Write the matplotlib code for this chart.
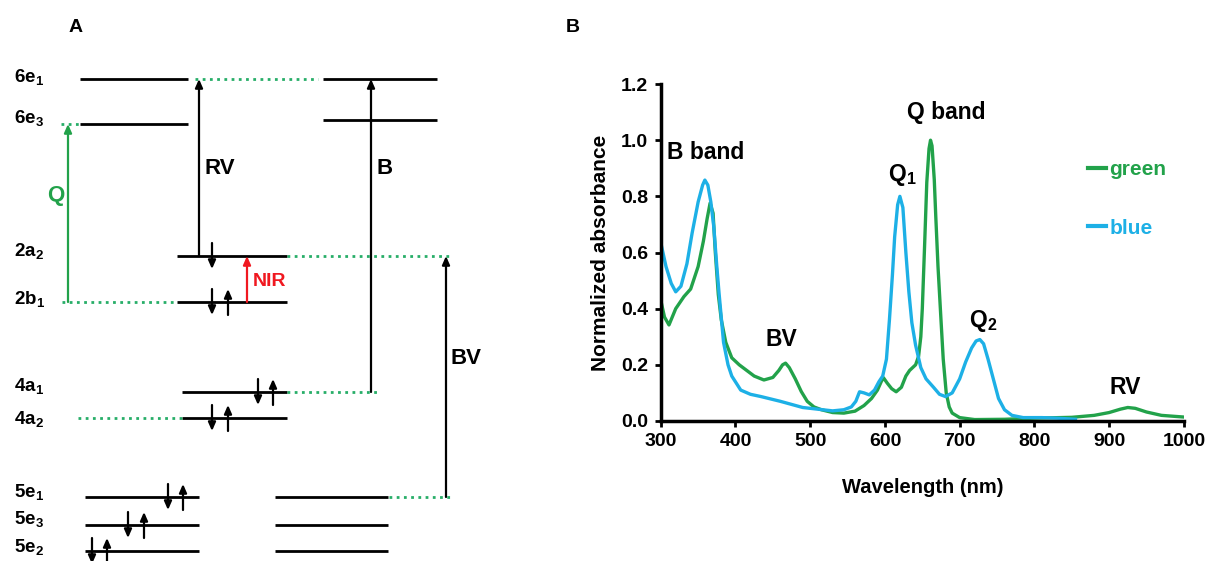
import matplotlib
matplotlib.use("Agg")
import matplotlib.pyplot as plt

plt.rcParams["font.family"] = ["Liberation Sans", "DejaVu Sans"]
plt.rcParams["font.weight"] = "bold"
plt.rcParams["mathtext.fontset"] = "custom"
plt.rcParams["mathtext.rm"] = "Liberation Sans:bold"
plt.rcParams["mathtext.bf"] = "Liberation Sans:bold"

GREEN = "#22A24A"
BLUE = "#1DB0E6"
DOT_GREEN = "#27AE68"
RED = "#F01820"

# ---- panel B: absorption spectra ----
green_x = [300, 305, 311, 320, 331, 340, 350, 357, 362, 366, 370, 373, 377, 381, 387,
           395, 405, 415, 425, 438, 450, 458, 463, 467, 472, 480, 488, 496, 505, 515,
           530, 545, 560, 572, 582, 590, 595, 598, 603, 609, 615, 622, 628, 633, 641,
           645, 648, 650, 653, 656, 659, 661, 663, 666, 668, 671, 675, 678, 682, 686,
           690, 700, 720, 760, 800, 850, 880, 900, 915, 925, 935, 950, 970, 1000]
green_y = [0.43, 0.37, 0.342, 0.40, 0.443, 0.47, 0.55, 0.64, 0.72, 0.776, 0.74, 0.60, 0.45,
           0.36, 0.28, 0.225, 0.20, 0.18, 0.16, 0.146, 0.155, 0.18, 0.20, 0.206, 0.19,
           0.15, 0.105, 0.07, 0.05, 0.04, 0.03, 0.028, 0.035, 0.055, 0.08, 0.11, 0.14,
           0.154, 0.135, 0.115, 0.104, 0.12, 0.16, 0.18, 0.20, 0.23, 0.30, 0.40, 0.62,
           0.85, 0.97, 1.0, 0.98, 0.86, 0.73, 0.55, 0.36, 0.22, 0.10, 0.05, 0.028, 0.012,
           0.005, 0.006, 0.01, 0.013, 0.02, 0.03, 0.042, 0.048, 0.045, 0.032, 0.02, 0.014]

blue_x = [300, 307, 314, 320, 327, 335, 342, 350, 356, 359, 363, 367, 371, 375, 378,
          384, 390, 395, 407, 420, 434, 460, 490, 510, 530, 545, 555, 561, 566, 572,
          579, 586, 592, 597, 602, 606, 610, 613, 617, 620, 624, 628, 632, 636, 641,
          648, 655, 665, 673, 681, 690, 700, 708, 716, 722, 727, 732, 738, 745, 752,
          760, 770, 785, 810, 830, 855]
blue_y = [0.635, 0.55, 0.49, 0.46, 0.48, 0.56, 0.67, 0.78, 0.84, 0.858, 0.84, 0.78, 0.69,
          0.55, 0.455, 0.28, 0.20, 0.16, 0.11, 0.095, 0.087, 0.07, 0.048, 0.042, 0.036,
          0.04, 0.05, 0.07, 0.104, 0.10, 0.093, 0.11, 0.14, 0.16, 0.22, 0.36, 0.52,
          0.656, 0.77, 0.80, 0.76, 0.60, 0.46, 0.35, 0.27, 0.19, 0.15, 0.12, 0.095, 0.087,
          0.10, 0.15, 0.21, 0.26, 0.285, 0.29, 0.275, 0.22, 0.15, 0.08, 0.04, 0.02, 0.012,
          0.012, 0.01, 0.006]

y_ticks = [0.0, 0.2, 0.4, 0.6, 0.8, 1.0, 1.2]
x_ticks = [300, 400, 500, 600, 700, 800, 900, 1000]

band_labels = ["B band", "Q band", r"Q$_\mathbf{1}$", r"Q$_\mathbf{2}$", "BV", "RV"]
band_pos = [(308, 0.955), (682, 1.10), (623, 0.875), (731, 0.355), (462, 0.29), (921, 0.118)]
band_align = ["left", "center", "center", "center", "center", "center"]

# ---- panel A: energy level diagram (diagram units, y grows downward) ----
level_names = [r"6e$_\mathbf{1}$", r"6e$_\mathbf{3}$", r"2a$_\mathbf{2}$", r"2b$_\mathbf{1}$",
               r"4a$_\mathbf{1}$", r"4a$_\mathbf{2}$", r"5e$_\mathbf{1}$", r"5e$_\mathbf{3}$",
               r"5e$_\mathbf{2}$"]
level_label_y = [78, 119, 252, 300, 387, 420, 493, 520, 548]

# (energy, x start, x end)
level_lines = [(79, 80, 188), (79, 323, 437), (124, 80, 188), (120, 323, 437),
               (256, 177, 287), (302, 177, 287), (392, 182, 287), (418, 182, 287),
               (497, 85, 199), (497, 275, 388), (525, 85, 199), (525, 275, 388),
               (551, 85, 199), (551, 275, 388)]
dotted_links = [(79, 195, 318), (124, 61, 79), (256, 287, 453), (302, 62, 177),
                (392, 287, 377), (418, 78, 182), (497, 389, 453)]

# (x, from, to, colour, label, label x, label y, label size)
transitions = [(68, 302, 124, GREEN, "Q", 47, 195, 16),
               (199, 256, 79, "black", "RV", 204, 168, 16),
               (371, 392, 79, "black", "B", 376, 168, 16),
               (446, 497, 256, "black", "BV", 450, 358, 16),
               (247, 302, 256, RED, "NIR", 253, 281, 14)]

# (x, level energy, spin)
electrons = [(212, 256, "down"),
             (212, 302, "down"), (228, 302, "up"),
             (258, 392, "down"), (273, 392, "up"),
             (212, 418, "down"), (228, 418, "up"),
             (168, 497, "down"), (183, 497, "up"),
             (128, 525, "down"), (144, 525, "up"),
             (92, 551, "down"), (107, 551, "up")]

fig = plt.figure(figsize=(12.08, 5.61), dpi=100)

axa = fig.add_axes([0, 0, 1, 1])
axa.set_xlim(0, 1208)
axa.set_ylim(561, 0)
axa.axis("off")

for y, x0, x1 in level_lines:
    axa.plot([x0, x1], [y, y], color="black", lw=2.0, solid_capstyle="butt")
for y, x0, x1 in dotted_links:
    axa.plot([x0, x1], [y, y], color=DOT_GREEN, lw=2.0, ls=(0, (1, 1.6)))
for x, y0, y1, c, lab, lx, ly, fs in transitions:
    axa.annotate("", xy=(x, y1), xytext=(x, y0), annotation_clip=False,
                 arrowprops=dict(arrowstyle="-|>,head_length=0.5,head_width=0.22",
                                 color=c, lw=1.6, shrinkA=0, shrinkB=0))
    axa.text(lx, ly, lab, color=c, fontsize=fs, fontweight="bold",
             ha="left", va="center")
for x, y, spin in electrons:
    top, bot = y - 13, y + 13
    start, end = (top, bot) if spin == "down" else (bot, top)
    axa.annotate("", xy=(x, end), xytext=(x, start), annotation_clip=False,
                 arrowprops=dict(arrowstyle="-|>,head_length=0.5,head_width=0.22",
                                 color="black", lw=1.6, shrinkA=0, shrinkB=0))
for name, ly in zip(level_names, level_label_y):
    axa.text(14, ly, name, fontsize=13.5, fontweight="bold", ha="left", va="center")

axa.text(69, 27, "A", fontsize=14, fontweight="bold", ha="left", va="center")
axa.text(566, 27, "B", fontsize=14, fontweight="bold", ha="left", va="center")

ax = fig.add_axes([0.547, 0.2496, 0.433, 0.6006])
ax.plot(green_x, green_y, color=GREEN, lw=2.4, label="green")
ax.plot(blue_x, blue_y, color=BLUE, lw=2.4, label="blue")
ax.set_xlim(300, 1000)
ax.set_ylim(0, 1.2)
ax.set_xticks(x_ticks)
ax.set_yticks(y_ticks)
ax.set_yticklabels([f"{v:.1f}" for v in y_ticks])
for s in ["top", "right"]:
    ax.spines[s].set_visible(False)
for s in ["left", "bottom"]:
    ax.spines[s].set_linewidth(2.5)
ax.tick_params(direction="out", length=4, width=2, labelsize=14, pad=5)
for lbl in ax.get_xticklabels() + ax.get_yticklabels():
    lbl.set_fontweight("bold")
ax.set_xlabel("Wavelength (nm)", fontsize=14.5, fontweight="bold", labelpad=20)
ax.set_ylabel("Normalized absorbance", fontsize=15, fontweight="bold", labelpad=8)

for lab, (x, y), ha in zip(band_labels, band_pos, band_align):
    ax.text(x, y, lab, fontsize=16.5, fontweight="bold", ha=ha, va="center")

leg = ax.legend(loc="upper left", bbox_to_anchor=(0.78, 0.83), frameon=False,
                handlelength=0.9, handletextpad=0.15, labelspacing=1.9,
                prop={"size": 15, "weight": "bold"}, labelcolor="linecolor")
for line in leg.get_lines():
    line.set_linewidth(3)

fig.savefig("out.png", dpi=100)
